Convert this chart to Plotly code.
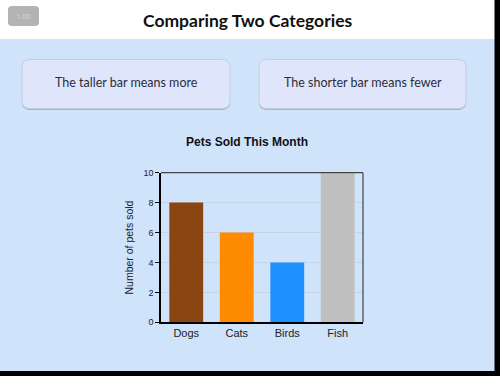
import plotly.graph_objects as go

W, H = 500, 376

# ---- data ----
categories = ["Dogs", "Cats", "Birds", "Fish"]
pets_sold = [8, 6, 4, 10]
bar_colors = ["#8B4513", "#FF8C00", "#1E90FF", "#C0C0C0"]
y_ticks = [0, 2, 4, 6, 8, 10]

page_title = "Comparing Two Categories"
chart_title = "Pets Sold This Month"
y_title = "Number of pets sold"
button_labels = ["The taller bar means more", "The shorter bar means fewer"]
badge_label = "1.00"

BG = "#cfe3fb"


def px(x):
    return x / W


def py(y):
    return 1 - y / H


def rrect(x0, y0, x1, y1, r):
    return (f"M {px(x0 + r)} {py(y0)} L {px(x1 - r)} {py(y0)} "
            f"Q {px(x1)} {py(y0)} {px(x1)} {py(y0 + r)} "
            f"L {px(x1)} {py(y1 - r)} "
            f"Q {px(x1)} {py(y1)} {px(x1 - r)} {py(y1)} "
            f"L {px(x0 + r)} {py(y1)} "
            f"Q {px(x0)} {py(y1)} {px(x0)} {py(y1 - r)} "
            f"L {px(x0)} {py(y0 + r)} "
            f"Q {px(x0)} {py(y0)} {px(x0 + r)} {py(y0)} Z")


fig = go.Figure()
fig.add_trace(go.Bar(
    x=categories, y=pets_sold, marker=dict(color=bar_colors, line=dict(width=0)),
    showlegend=False, hoverinfo="skip",
))

plot_l, plot_r, plot_t, plot_b = 161, 363, 172.7, 322.3

shapes = []
shapes.append(dict(type="rect", xref="paper", yref="paper", x0=0, x1=1,
                   y0=py(39), y1=1, fillcolor="white", line=dict(width=0), layer="below"))
shapes.append(dict(type="path", xref="paper", yref="paper", path=rrect(8, 6, 39, 26, 4),
                   fillcolor="#b3b3b3", line=dict(width=0), layer="below"))
for (x0, x1) in [(22, 230), (259, 466)]:
    shapes.append(dict(type="path", xref="paper", yref="paper",
                       path=rrect(x0, 60.5, x1, 110, 8),
                       fillcolor="#a9b4c6", line=dict(width=0), layer="below"))
    shapes.append(dict(type="path", xref="paper", yref="paper",
                       path=rrect(x0, 59.5, x1, 108.5, 8),
                       fillcolor="#dfe6fb", line=dict(color="#c4cde0", width=1), layer="below"))
shapes.append(dict(type="line", xref="x domain", yref="y domain", x0=0, x1=1, y0=1, y1=1,
                   line=dict(color="#444444", width=1.2)))
shapes.append(dict(type="line", xref="x domain", yref="y domain", x0=1, x1=1, y0=0, y1=1,
                   line=dict(color="#444444", width=1.2)))
shapes.append(dict(type="rect", xref="paper", yref="paper", x0=px(494.5), x1=1, y0=0, y1=1,
                   fillcolor="black", line=dict(width=0)))
shapes.append(dict(type="rect", xref="paper", yref="paper", x0=0, x1=1, y0=0, y1=py(371),
                   fillcolor="black", line=dict(width=0)))

annotations = [
    dict(text=f"<b>{page_title}</b>", x=px(247), y=py(20), xref="paper", yref="paper",
         showarrow=False, font=dict(family="Lato", size=17.5, color="#111111"),
         xanchor="center", yanchor="middle"),
    dict(text=badge_label, x=px(23.5), y=py(16), xref="paper", yref="paper",
         showarrow=False, font=dict(family="Noto Sans", size=7.5, color="#d4d4d4"),
         xanchor="center", yanchor="middle"),
    dict(text=button_labels[0], x=px(126), y=py(83), xref="paper", yref="paper",
         showarrow=False, font=dict(family="Lato", size=12.5, color="#2b2d3a"),
         xanchor="center", yanchor="middle"),
    dict(text=button_labels[1], x=px(362.5), y=py(83), xref="paper", yref="paper",
         showarrow=False, font=dict(family="Lato", size=12.5, color="#2b2d3a"),
         xanchor="center", yanchor="middle"),
    dict(text=f"<b>{chart_title}</b>", x=px(247), y=py(142), xref="paper", yref="paper",
         showarrow=False, font=dict(family="Liberation Sans, Arial", size=12, color="#111111"),
         xanchor="center", yanchor="middle"),
    dict(text=y_title, x=px(128), y=py(247.5), xref="paper", yref="paper", textangle=-90,
         showarrow=False, font=dict(family="Liberation Sans, Arial", size=10.5, color="#222222"),
         xanchor="center", yanchor="middle"),
]

fig.update_layout(
    width=W, height=H,
    margin=dict(l=0, r=0, t=0, b=0, pad=0),
    paper_bgcolor=BG, plot_bgcolor=BG,
    bargap=0.33,
    shapes=shapes,
    annotations=annotations,
    xaxis=dict(
        domain=[px(plot_l), px(plot_r)],
        showline=True, linecolor="black", linewidth=1.5,
        ticks="", showgrid=False, automargin=False,
        tickfont=dict(family="Liberation Sans, Arial", size=11, color="#222222"),
        fixedrange=True,
    ),
    yaxis=dict(
        domain=[py(plot_b), py(plot_t)],
        range=[0, 10], tickvals=y_ticks,
        showline=True, linecolor="black", linewidth=1.5,
        ticks="outside", ticklen=4, tickcolor="black", tickwidth=1,
        showgrid=True, gridcolor="#c8d4e2", gridwidth=1,
        zeroline=False, automargin=False,
        tickfont=dict(family="Liberation Sans, Arial", size=9, color="#222222"),
        fixedrange=True,
    ),
)

fig.write_html("out.html", config=dict(displayModeBar=False))
